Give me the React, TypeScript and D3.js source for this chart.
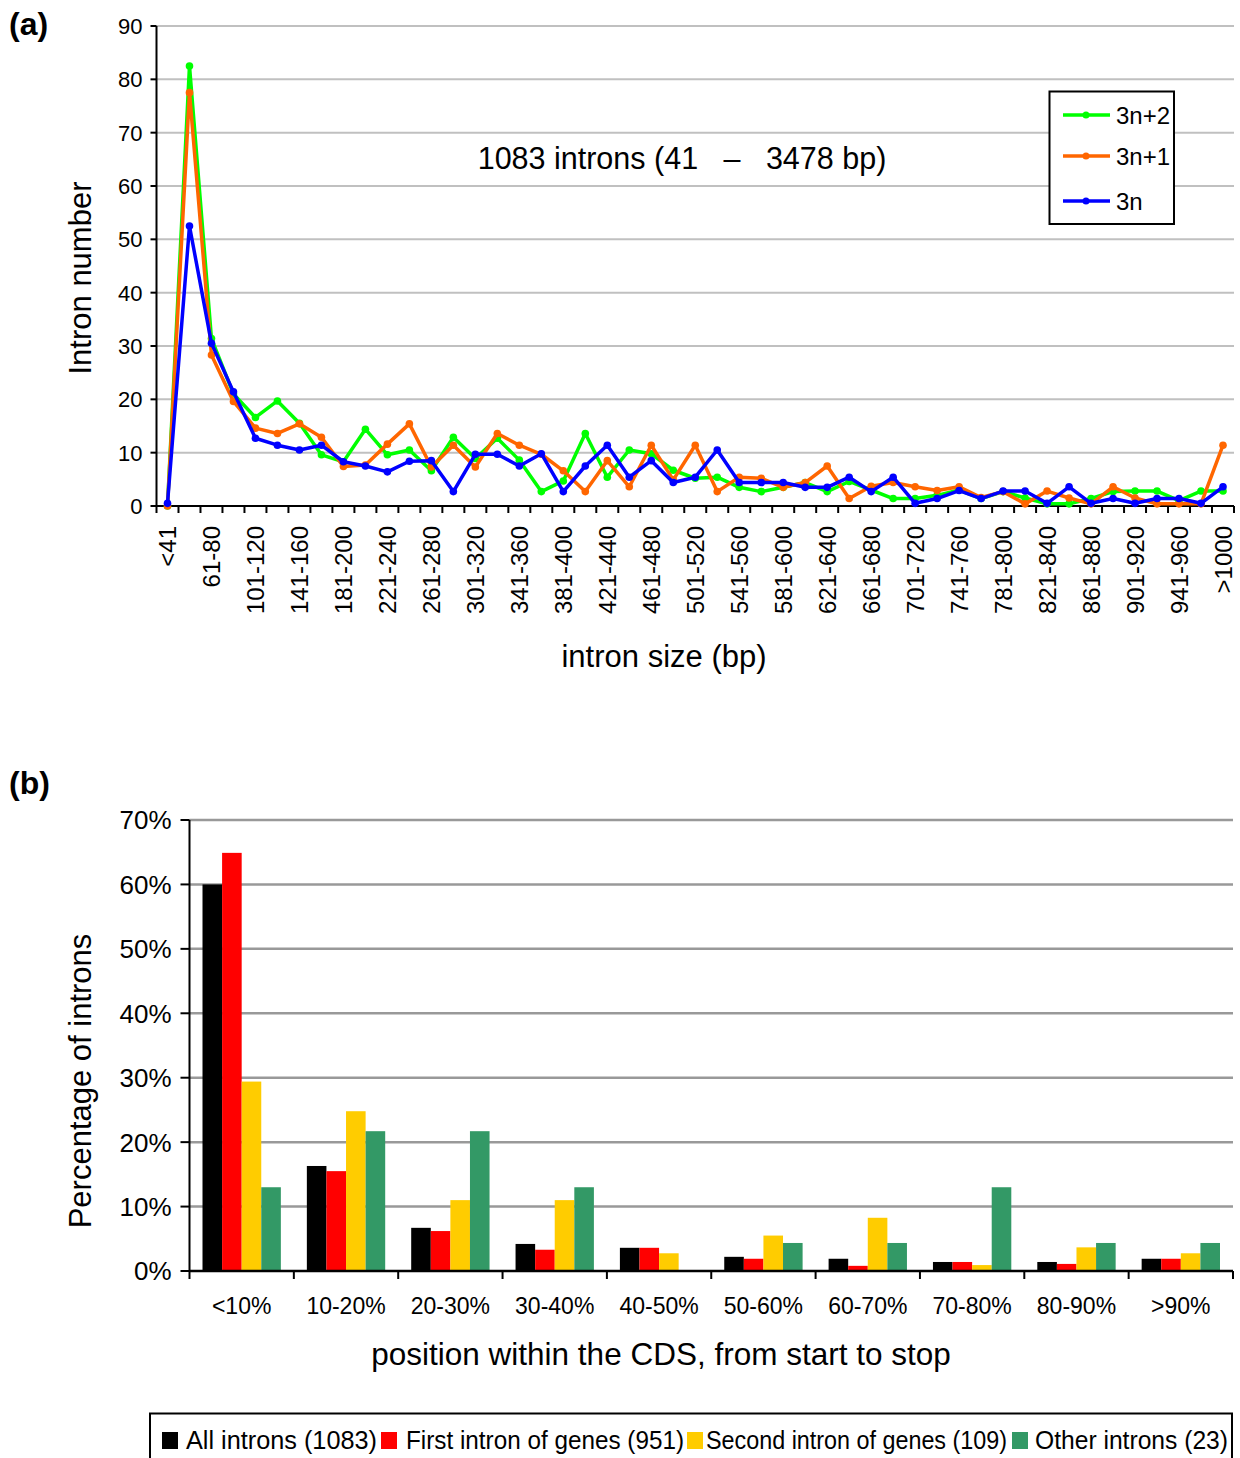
import React from 'react';
import * as d3 from 'd3';

// (a) intron size distribution
const sizeBins = [
  '<41', '41-60', '61-80', '81-100', '101-120', '121-140', '141-160', '161-180', '181-200', '201-220',
  '221-240', '241-260', '261-280', '281-300', '301-320', '321-340', '341-360', '361-380', '381-400', '401-420',
  '421-440', '441-460', '461-480', '481-500', '501-520', '521-540', '541-560', '561-580', '581-600', '601-620',
  '621-640', '641-660', '661-680', '681-700', '701-720', '721-740', '741-760', '761-780', '781-800', '801-820',
  '821-840', '841-860', '861-880', '881-900', '901-920', '921-940', '941-960', '961-1000', '>1000',
];

const n3p2 = [
  0, 82.5, 31.4, 21, 16.6, 19.7, 15.5, 9.6, 8.3, 14.4,
  9.6, 10.5, 6.6, 12.9, 8.9, 12.7, 8.6, 2.7, 4.7, 13.6,
  5.4, 10.5, 9.8, 6.7, 5.2, 5.4, 3.5, 2.7, 3.5, 4.4,
  2.7, 4.6, 3.0, 1.4, 1.4, 2.0, 3.0, 1.4, 2.7, 1.5,
  0.4, 0.4, 1.4, 2.7, 2.8, 2.8, 1.0, 2.8, 2.8,
];
const n3p1 = [
  0, 77.5, 28.3, 19.6, 14.6, 13.6, 15.4, 12.9, 7.4, 7.7,
  11.6, 15.4, 7.3, 11.4, 7.3, 13.6, 11.4, 9.7, 6.6, 2.7,
  8.5, 3.6, 11.4, 4.9, 11.4, 2.7, 5.4, 5.2, 3.5, 4.4,
  7.5, 1.4, 3.7, 4.4, 3.6, 2.9, 3.6, 1.6, 2.7, 0.4,
  2.8, 1.5, 0.4, 3.6, 1.5, 0.4, 0.4, 0.4, 11.4,
];
const n3 = [
  0.5, 52.5, 30.5, 21.4, 12.7, 11.4, 10.5, 11.4, 8.3, 7.5,
  6.4, 8.4, 8.5, 2.7, 9.7, 9.7, 7.5, 9.8, 2.7, 7.5,
  11.4, 5.4, 8.5, 4.4, 5.4, 10.5, 4.4, 4.4, 4.4, 3.5,
  3.5, 5.4, 2.7, 5.4, 0.5, 1.4, 2.9, 1.4, 2.8, 2.8,
  0.5, 3.6, 0.5, 1.4, 0.5, 1.4, 1.4, 0.5, 3.6,
];
const yTicksA = [0, 10, 20, 30, 40, 50, 60, 70, 80, 90];

const lineSeries = [
  { name: '3n+2', values: n3p2, color: '#00ff00' },
  { name: '3n+1', values: n3p1, color: '#ff6600' },
  { name: '3n', values: n3, color: '#0000ff' },
];

// (b) intron position within CDS
const positions = ['<10%', '10-20%', '20-30%', '30-40%', '40-50%', '50-60%', '60-70%', '70-80%', '80-90%', '>90%'];
const allIntrons = [60.0, 16.3, 6.7, 4.2, 3.6, 2.2, 1.9, 1.4, 1.4, 1.9];
const firstIntrons = [64.9, 15.5, 6.2, 3.3, 3.6, 1.9, 0.8, 1.4, 1.1, 1.9];
const secondIntrons = [29.4, 24.8, 11.0, 11.0, 2.75, 5.5, 8.26, 0.92, 3.67, 2.75];
const otherIntrons = [13.0, 21.7, 21.7, 13.0, 0, 4.35, 4.35, 13.0, 4.35, 4.35];
const yTicksB = [0, 10, 20, 30, 40, 50, 60, 70];

const barSeries = [
  { name: 'All introns (1083)', values: allIntrons, color: '#000000' },
  { name: 'First intron of genes (951)', values: firstIntrons, color: '#ff0000' },
  { name: 'Second intron of genes (109)', values: secondIntrons, color: '#ffcc00' },
  { name: 'Other introns (23)', values: otherIntrons, color: '#339966' },
];

const FONT = '"Liberation Sans", Arial, Helvetica, sans-serif';

function PanelA() {
  const left = 156.5, right = 1234, top = 26, bottom = 506;
  const x = d3.scaleBand<string>().domain(sizeBins).range([left, right]);
  const y = d3.scaleLinear().domain([0, 90]).range([bottom, top]);
  const cx = (c: string) => (x(c) as number) + x.bandwidth() / 2;
  const line = d3.line<number>().x((_, i) => cx(sizeBins[i])).y(d => y(d));

  return (
    <g fontFamily={FONT}>
      <text x={9} y={35} fontSize={32} fontWeight="bold">(a)</text>
      {yTicksA.filter(t => t > 0).map(t => (
        <line key={t} x1={left} x2={right} y1={y(t)} y2={y(t)} stroke="#c0c0c0" strokeWidth={2} />
      ))}
      {yTicksA.map(t => (
        <g key={t}>
          <line x1={left - 6} x2={left} y1={y(t)} y2={y(t)} stroke="#000" strokeWidth={2} />
          <text x={left - 14} y={y(t)} dy="0.36em" textAnchor="end" fontSize={22}>{t}</text>
        </g>
      ))}
      <line x1={left} x2={left} y1={top} y2={bottom} stroke="#000" strokeWidth={2} />
      <line x1={left} x2={right} y1={bottom} y2={bottom} stroke="#000" strokeWidth={2} />
      {sizeBins.map(c => (
        <line key={c} x1={x(c) as number} x2={x(c) as number} y1={bottom} y2={bottom + 7} stroke="#000" strokeWidth={2} />
      ))}
      <line x1={right} x2={right} y1={bottom} y2={bottom + 7} stroke="#000" strokeWidth={2} />
      {sizeBins.map((c, i) => i % 2 === 0 ? (
        <text key={c} transform={`translate(${cx(c)},${bottom + 20}) rotate(-90)`} dy="0.36em" textAnchor="end" fontSize={24}>{c}</text>
      ) : null)}
      <text x={80} y={278} transform="rotate(-90 80 278)" dy="0.36em" textAnchor="middle" fontSize={31}>Intron number</text>
      <text x={664} y={667} textAnchor="middle" fontSize={31}>intron size (bp)</text>
      <text x={682} y={169} textAnchor="middle" fontSize={30.5} style={{ whiteSpace: 'pre' }}>{'1083 introns (41   –   3478 bp)'}</text>

      {lineSeries.map(s => (
        <g key={s.name}>
          <path d={line(s.values) as string} fill="none" stroke={s.color} strokeWidth={3.5} strokeLinejoin="round" />
          {s.values.map((v, i) => (
            <circle key={i} cx={cx(sizeBins[i])} cy={y(v)} r={3.8} fill={s.color} />
          ))}
        </g>
      ))}

      <rect x={1049.5} y={91.5} width={124.5} height={132.5} fill="#fff" stroke="#000" strokeWidth={2} />
      {lineSeries.map((s, i) => {
        const ly = [115, 156, 201][i];
        return (
          <g key={s.name}>
            <line x1={1063} x2={1110} y1={ly} y2={ly} stroke={s.color} strokeWidth={3.5} />
            <circle cx={1086} cy={ly} r={3.5} fill={s.color} />
            <text x={1116} y={ly} dy="0.36em" fontSize={24}>{s.name}</text>
          </g>
        );
      })}
    </g>
  );
}

function PanelB() {
  const left = 189.5, right = 1233, top = 820, bottom = 1271;
  const x0 = d3.scaleBand<string>().domain(positions).range([left, right]);
  const gap = 26;
  const x1 = d3.scaleBand<string>().domain(barSeries.map(s => s.name)).range([gap / 2, x0.bandwidth() - gap / 2]);
  const y = d3.scaleLinear().domain([0, 70]).range([bottom, top]);

  const legendSquareX = [162, 381, 687, 1012];
  const legendTextX = [186, 406, 706, 1035];
  const legendTextW = [191, 278, 301, 193];

  return (
    <g fontFamily={FONT}>
      <text x={9} y={794} fontSize={32} fontWeight="bold">(b)</text>
      {yTicksB.filter(t => t > 0).map(t => (
        <line key={t} x1={left} x2={right} y1={y(t)} y2={y(t)} stroke="#999" strokeWidth={2.5} />
      ))}
      {barSeries.map(s => (
        <g key={s.name}>
          {s.values.map((v, i) => (
            <rect key={i} x={(x0(positions[i]) as number) + (x1(s.name) as number)} y={y(v)}
              width={x1.bandwidth()} height={bottom - y(v)} fill={s.color} />
          ))}
        </g>
      ))}
      {yTicksB.map(t => (
        <g key={t}>
          <line x1={left - 9} x2={left} y1={y(t)} y2={y(t)} stroke="#000" strokeWidth={2} />
          <text x={left - 18} y={y(t)} dy="0.36em" textAnchor="end" fontSize={26}>{t}%</text>
        </g>
      ))}
      <line x1={left} x2={left} y1={top} y2={bottom} stroke="#000" strokeWidth={2} />
      <line x1={left} x2={right} y1={bottom} y2={bottom} stroke="#000" strokeWidth={2.5} />
      {positions.map(c => (
        <line key={c} x1={x0(c) as number} x2={x0(c) as number} y1={bottom} y2={bottom + 8} stroke="#000" strokeWidth={2} />
      ))}
      <line x1={right} x2={right} y1={bottom} y2={bottom + 8} stroke="#000" strokeWidth={2} />
      {positions.map(c => (
        <text key={c} x={(x0(c) as number) + x0.bandwidth() / 2} y={1314} textAnchor="middle" fontSize={23}>{c}</text>
      ))}
      <text x={80} y={1081} transform="rotate(-90 80 1081)" dy="0.36em" textAnchor="middle" fontSize={31}>Percentage of introns</text>
      <text x={661} y={1365} textAnchor="middle" fontSize={31.5}>position within the CDS, from start to stop</text>

      <rect x={150} y={1413.5} width={1082} height={60} fill="#fff" stroke="#000" strokeWidth={2} />
      {barSeries.map((s, i) => (
        <g key={s.name}>
          <rect x={legendSquareX[i]} y={1432} width={16} height={17} fill={s.color} />
          <text x={legendTextX[i]} y={1440} dy="0.36em" fontSize={25}
            textLength={legendTextW[i]} lengthAdjust="spacingAndGlyphs">{s.name}</text>
        </g>
      ))}
    </g>
  );
}

export default function App() {
  return (
    <svg width={1240} height={1458} style={{ position: 'absolute', left: 0, top: 0, background: '#fff' }}>
      <PanelA />
      <PanelB />
    </svg>
  );
}
